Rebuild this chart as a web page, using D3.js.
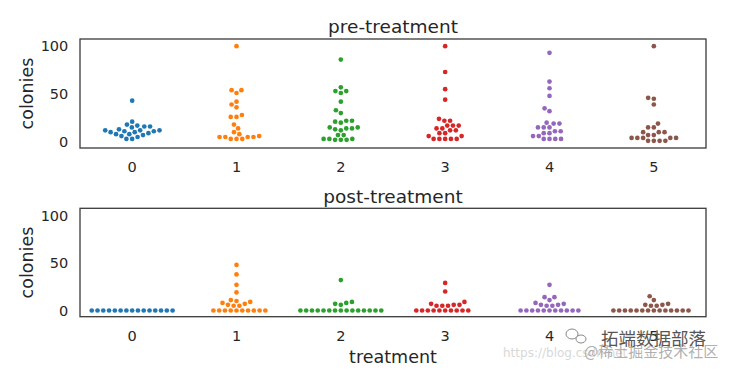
<!DOCTYPE html>
<html>
<head>
<meta charset="utf-8">
<script src="https://cdn.jsdelivr.net/npm/d3@7"></script>
<style>
  body { margin: 0; background: #fff; }
  svg { display: block; font-family: "DejaVu Sans", sans-serif; }
</style>
</head>
<body>
<svg width="732" height="370"></svg>
<script>
// treatment categories and colony counts
var treatments = ['0', '1', '2', '3', '4', '5'];

var preColonies = [
  [43, 21, 18, 17, 16, 16, 15, 13, 12, 12, 12, 11, 11, 10, 10, 9, 8, 8, 7, 6, 5, 3, 3],
  [100, 54, 54, 51, 42, 39, 36, 28, 26, 26, 18, 14, 10, 8, 6, 5, 5, 5, 5, 3, 3, 3],
  [86, 57, 53, 53, 51, 42, 33, 30, 22, 22, 21, 20, 15, 15, 14, 14, 13, 12, 7, 7, 3, 3, 3, 2, 2, 2],
  [100, 73, 55, 44, 24, 22, 22, 17, 17, 17, 14, 14, 12, 12, 9, 9, 6, 6, 3, 3, 3, 3, 3],
  [93, 63, 56, 48, 35, 32, 20, 19, 19, 15, 15, 15, 11, 11, 9, 9, 6, 6, 3, 3, 3, 3],
  [100, 46, 45, 39, 19, 15, 15, 10, 10, 10, 7, 7, 4, 4, 4, 4, 4, 1, 1, 1, 1]
];

var postColonies = [
  [0, 0, 0, 0, 0, 0, 0, 0, 0, 0, 0, 0, 0, 0, 0],
  [48, 38, 27, 19, 11, 10, 9, 8, 7, 6, 5, 5, 0, 0, 0, 0, 0, 0, 0, 0, 0, 0],
  [32, 9, 8, 7, 6, 0, 0, 0, 0, 0, 0, 0, 0, 0, 0, 0, 0, 0, 0, 0],
  [29, 20, 9, 7, 6, 6, 5, 5, 5, 0, 0, 0, 0, 0, 0, 0, 0, 0, 0],
  [27, 14, 14, 11, 8, 7, 6, 6, 5, 5, 0, 0, 0, 0, 0, 0, 0, 0, 0, 0, 0],
  [15, 11, 7, 6, 6, 5, 5, 0, 0, 0, 0, 0, 0, 0, 0, 0, 0, 0, 0, 0, 0]
];

var panelTitles = ['pre-treatment', 'post-treatment'];
var yTicks = [0, 50, 100];
var palette = ['#1f77b4', '#ff7f0e', '#2ca02c', '#d62728', '#9467bd', '#8c564b'];

var svg = d3.select('svg');
var left = 80, right = 706;
var dotR = 2.35, dotD = 5.5;

var x = d3.scaleBand().domain(treatments).range([left, right]).padding(0);
var half = x.bandwidth() * 0.4;

var panels = [
  {top: 39, bottom: 148, title: panelTitles[0], data: preColonies},
  {top: 208.3, bottom: 316.7, title: panelTitles[1], data: postColonies}
];

// seaborn-like beeswarm: sort by value, put each point at the free spot nearest the midline
function beeswarm(values, cx, y) {
  var pts = values.map(function (v) { return {v: v, y: y(v), x: cx}; });
  pts.sort(function (a, b) { return a.v - b.v; });
  var placed = [];
  pts.forEach(function (p) {
    var near = [];
    for (var j = placed.length - 1; j >= 0; j--) {
      if (Math.abs(placed[j].y - p.y) < dotD) near.push(placed[j]);
      else break;
    }
    var cands = [cx];
    var leftFirst = true;
    near.forEach(function (q) {
      var dy = p.y - q.y;
      var dx = Math.sqrt(Math.max(dotD * dotD - dy * dy, 0)) * 1.05;
      if (leftFirst) cands.push(q.x - dx, q.x + dx);
      else cands.push(q.x + dx, q.x - dx);
      leftFirst = !leftFirst;
    });
    var order = cands.map(function (c, i) { return {c: c, i: i}; })
      .sort(function (a, b) { return (Math.abs(a.c - cx) - Math.abs(b.c - cx)) || (a.i - b.i); });
    for (var k = 0; k < order.length; k++) {
      var c = order[k].c;
      var free = near.every(function (q) {
        var ddx = c - q.x, ddy = p.y - q.y;
        return ddx * ddx + ddy * ddy >= dotD * dotD * 0.999;
      });
      if (free) { p.x = c; break; }
    }
    placed.push(p);
  });
  placed.forEach(function (p) { p.x = Math.max(cx - half, Math.min(cx + half, p.x)); });
  return placed;
}

panels.forEach(function (panel) {
  var y = d3.scaleLinear().domain([-6.5, 107.5]).range([panel.bottom, panel.top]);
  var g = svg.append('g');

  g.append('g')
    .attr('transform', 'translate(0,' + panel.bottom + ')')
    .call(d3.axisBottom(x).tickSize(0).tickPadding(14.2))
    .call(function (a) { a.select('.domain').remove(); })
    .selectAll('text')
      .attr('fill', '#262626')
      .style('font-size', '14.5px')
      .style('font-family', '"DejaVu Sans", sans-serif');

  g.append('g')
    .attr('transform', 'translate(' + left + ',0)')
    .call(d3.axisLeft(y).tickValues(yTicks).tickSize(0).tickPadding(11.7))
    .call(function (a) { a.select('.domain').remove(); })
    .selectAll('text')
      .attr('fill', '#262626')
      .style('font-size', '14.5px')
      .style('font-family', '"DejaVu Sans", sans-serif');

  panel.data.forEach(function (vals, i) {
    var cx = x(treatments[i]) + x.bandwidth() / 2;
    g.selectAll('circle.t' + i)
      .data(beeswarm(vals, cx, y))
      .enter().append('circle')
        .attr('class', 't' + i)
        .attr('cx', function (d) { return d.x; })
        .attr('cy', function (d) { return d.y; })
        .attr('r', dotR)
        .attr('fill', palette[i]);
  });

  g.append('rect')
    .attr('x', left).attr('y', panel.top)
    .attr('width', right - left).attr('height', panel.bottom - panel.top)
    .attr('fill', 'none').attr('stroke', '#3a3a3a').attr('stroke-width', 1.3);

  g.append('text')
    .attr('x', (left + right) / 2).attr('y', panel.top - 5.7)
    .attr('text-anchor', 'middle').attr('fill', '#262626')
    .style('font-size', '18.5px')
    .text(panel.title);

  g.append('text')
    .attr('transform', 'translate(33,' + (panel.top + panel.bottom) / 2 + ') rotate(-90)')
    .attr('text-anchor', 'middle').attr('fill', '#262626')
    .style('font-size', '17.5px')
    .text('colonies');
});

svg.append('text')
  .attr('x', (left + right) / 2).attr('y', 362.7)
  .attr('text-anchor', 'middle').attr('fill', '#262626')
  .style('font-size', '17.5px')
  .text('treatment');

// watermark in the lower right corner
svg.append('text')
  .attr('x', 503).attr('y', 357)
  .attr('fill', '#d8d8d8')
  .style('font-size', '12px')
  .text('https://blog.csdn.net');
svg.append('text')
  .attr('x', 584).attr('y', 357)
  .attr('fill', '#9a9a9a').attr('fill-opacity', 0.8)
  .style('font-family', '"Noto Sans CJK SC", sans-serif')
  .style('font-size', '15px')
  .text('@稀土掘金技术社区');
svg.append('text')
  .attr('x', 601).attr('y', 345)
  .attr('fill', '#555')
  .style('font-family', '"Noto Sans CJK SC", sans-serif')
  .style('font-size', '17.5px')
  .text('拓端数据部落');
svg.append('ellipse').attr('cx', 572).attr('cy', 334).attr('rx', 6).attr('ry', 5)
  .attr('fill', 'none').attr('stroke', '#888').attr('stroke-width', 1);
svg.append('ellipse').attr('cx', 581).attr('cy', 339).attr('rx', 5).attr('ry', 4)
  .attr('fill', '#fff').attr('stroke', '#888').attr('stroke-width', 1);
</script>
</body>
</html>
